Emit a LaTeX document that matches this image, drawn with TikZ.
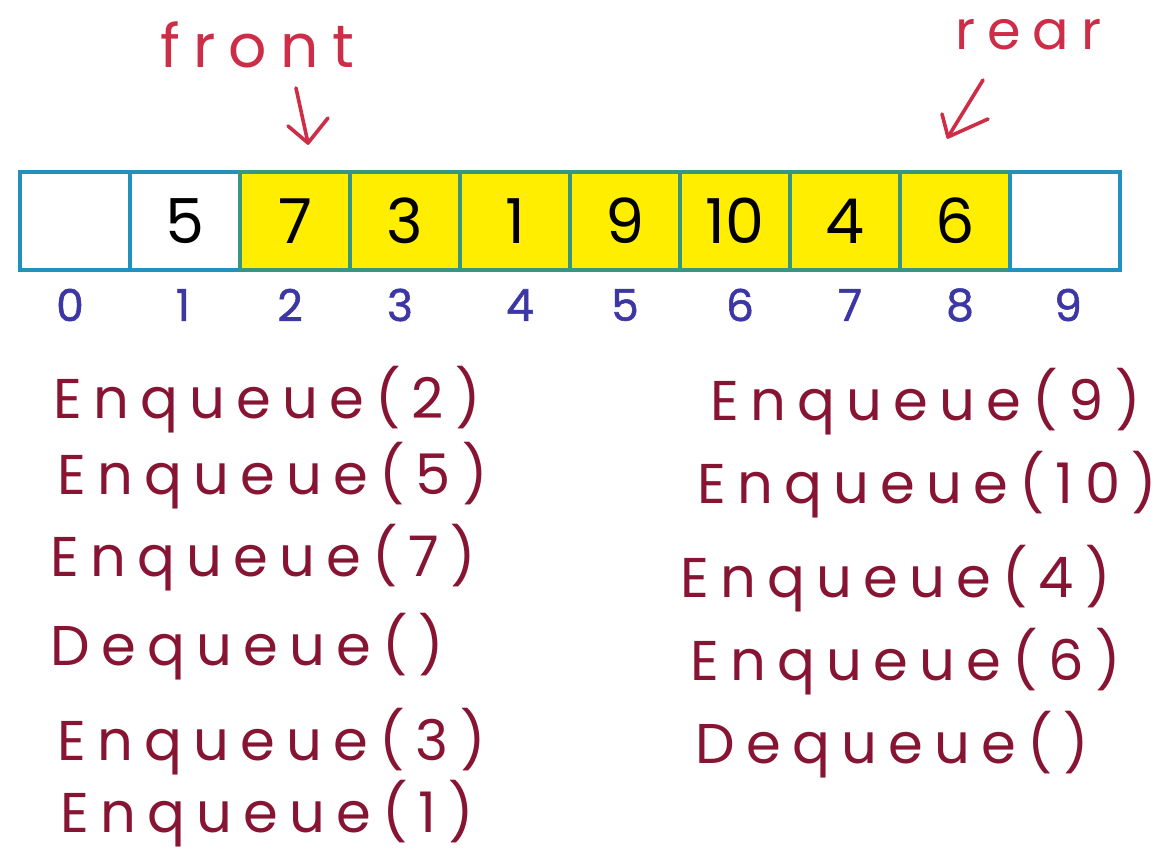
\documentclass[tikz,border=0pt]{standalone}
\usepackage{fontspec}
\setmainfont{Poppins}
\newfontfamily\hand[LetterSpace=20]{Poppins}
\newfontfamily\lblfont[LetterSpace=22]{Poppins}
\newfontfamily\idxfont[FakeBold=1.2]{Poppins}
\definecolor{labelred}{RGB}{205,45,70}
\definecolor{opred}{RGB}{135,20,50}
\definecolor{idxblue}{RGB}{60,55,165}
\definecolor{cellblue}{RGB}{35,145,190}
\definecolor{cellgreen}{RGB}{55,150,125}
\definecolor{qyellow}{RGB}{255,238,0}
\tikzset{
  cellw/.style={draw=cellblue, fill=white, line width=2pt, minimum width=55pt, minimum height=49pt, inner sep=0pt, outer sep=0pt, font=\fontsize{31}{31}\selectfont},
  celly/.style={cellw, draw=cellgreen, fill=qyellow},
  idx/.style={text=idxblue, font=\fontsize{22}{22}\idxfont, inner sep=0pt},
  op/.style={text=opred, font=\fontsize{28}{28}\hand, inner sep=0pt, anchor=base west},
  lbl/.style={text=labelred, inner sep=0pt, anchor=base west},
  arr/.style={draw=labelred, line width=1.8pt, line cap=round, line join=round}
}
\begin{document}
\begin{tikzpicture}[x=0.5pt,y=-0.5pt]
\useasboundingbox (0,0) rectangle (1163,856);
\fill[white] (0,0) rectangle (1163,856);
% cells
\node[cellw] (c0) at (75,221) {};
\node[cellw] (c1) at (185,221) {5};
\node[celly] (c2) at (295,221) {7};
\node[celly] (c3) at (405,221) {3};
\node[celly] (c4) at (515,221) {1};
\node[celly] (c5) at (625,221) {9};
\node[celly] (c6) at (735,221) {10};
\node[celly] (c7) at (845,221) {4};
\node[celly] (c8) at (955,221) {6};
\node[cellw] (c9) at (1065,221) {};
% indices
\node[idx] (i0) at (70,305) {0};
\node[idx] (i1) at (183,305) {1};
\node[idx] (i2) at (290,305) {2};
\node[idx] (i3) at (400,305) {3};
\node[idx] (i4) at (520,305) {4};
\node[idx] (i5) at (625,305) {5};
\node[idx] (i6) at (740,305) {6};
\node[idx] (i7) at (850,305) {7};
\node[idx] (i8) at (960,305) {8};
\node[idx] (i9) at (1068,305) {9};
% labels
\node[lbl, font=\fontsize{30}{30}\lblfont] (front) at (160,68) {front};
\node[lbl, font=\fontsize{27}{27}\lblfont] (rear) at (955,50) {rear};
\coordinate (fa1) at (296,88);
\coordinate (fa2) at (308,143);
\coordinate (fal) at (288,126);
\coordinate (far) at (328,118);
\draw[arr] (fa1) -- (fa2);
\draw[arr] (fal) -- (fa2) -- (far);
\coordinate (ra1) at (983,80);
\coordinate (ra2) at (948,137);
\coordinate (ral) at (942,114);
\coordinate (rar) at (988,119);
\draw[arr] (ra1) -- (ra2);
\draw[arr] (ral) -- (ra2) -- (rar);
% operations left
\node[op] (l1) at (53,418) {Enqueue(2)};
\node[op] (l2) at (57,494) {Enqueue(5)};
\node[op] (l3) at (50,576) {Enqueue(7)};
\node[op] (l4) at (50,665) {Dequeue()};
\node[op] (l5) at (57,760) {Enqueue(3)};
\node[op] (l6) at (60,832) {Enqueue(1)};
% operations right
\node[op] (r1) at (710,420) {Enqueue(9)};
\node[op] (r2) at (697,503) {Enqueue(10)};
\node[op] (r3) at (680,597) {Enqueue(4)};
\node[op] (r4) at (690,680) {Enqueue(6)};
\node[op] (r5) at (695,763) {Dequeue()};
\end{tikzpicture}
\end{document}
